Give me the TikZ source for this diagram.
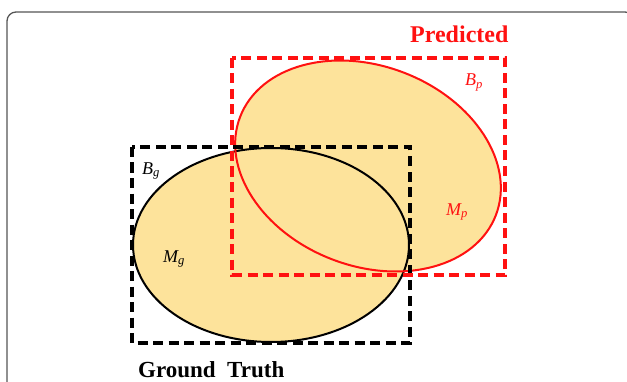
\documentclass[tikz,border=0pt]{standalone}
\usepackage{fontspec}
\setmainfont{Liberation Serif}
\usepackage{xcolor}
\definecolor{maskfill}{HTML}{FDE39B}
\definecolor{predred}{HTML}{FF1111}
\definecolor{framegray}{HTML}{555555}
\tikzset{
  mask/.style={fill=maskfill, draw=none},
  gtline/.style={line width=2pt, color=black},
  predline/.style={line width=2pt, color=predred},
  gtbox/.style={line width=3.4pt, color=black, dash pattern=on 10pt off 5.5pt},
  predbox/.style={line width=3.8pt, color=predred, dash pattern=on 10pt off 5.5pt},
  lbl/.style={inner sep=0pt, font=\fontsize{18}{20}\selectfont\itshape}
}

\begin{document}
\begin{tikzpicture}[x=1pt,y=1pt]
\useasboundingbox (0,0) rectangle (627,381);
% outer frame
\draw[framegray, line width=1.3pt, rounded corners=9pt] (7,-10) -- (7,369) -- (634,369) -- (634,-10);
\coordinate (gc) at (271,136);
\coordinate (pc) at (368,215);
% masks
\fill[mask] (gc) ellipse [x radius=138pt, y radius=97pt];
\fill[mask, rotate around={-21:(pc)}] (pc) ellipse [x radius=137pt, y radius=100pt];
\draw[gtline] (gc) ellipse [x radius=138pt, y radius=97pt];
\draw[predline, rotate around={-21:(pc)}] (pc) ellipse [x radius=137pt, y radius=100pt];
% boxes
\draw[gtbox] (132,234) rectangle (410,38);
\draw[predbox] (232,323) rectangle (505,106);
% labels
\node[lbl, anchor=base west] (bg) at (142,207) {B\textsubscript{g}};
\node[lbl, anchor=base west] (mg) at (163,119) {M\textsubscript{g}};
\node[lbl, anchor=base west, text=predred] (bp) at (465,295) {B\textsubscript{p}};
\node[lbl, anchor=base west, text=predred] (mp) at (446,166) {M\textsubscript{p}};
\node[inner sep=0pt, anchor=base west, text=predred, font=\fontsize{24}{26}\selectfont\bfseries] (pred) at (410,338) {Predicted};
\node[inner sep=0pt, anchor=base west, font=\fontsize{23}{25}\selectfont\bfseries] (gt) at (138,4) {Ground\ \ Truth};
\end{tikzpicture}
\end{document}
